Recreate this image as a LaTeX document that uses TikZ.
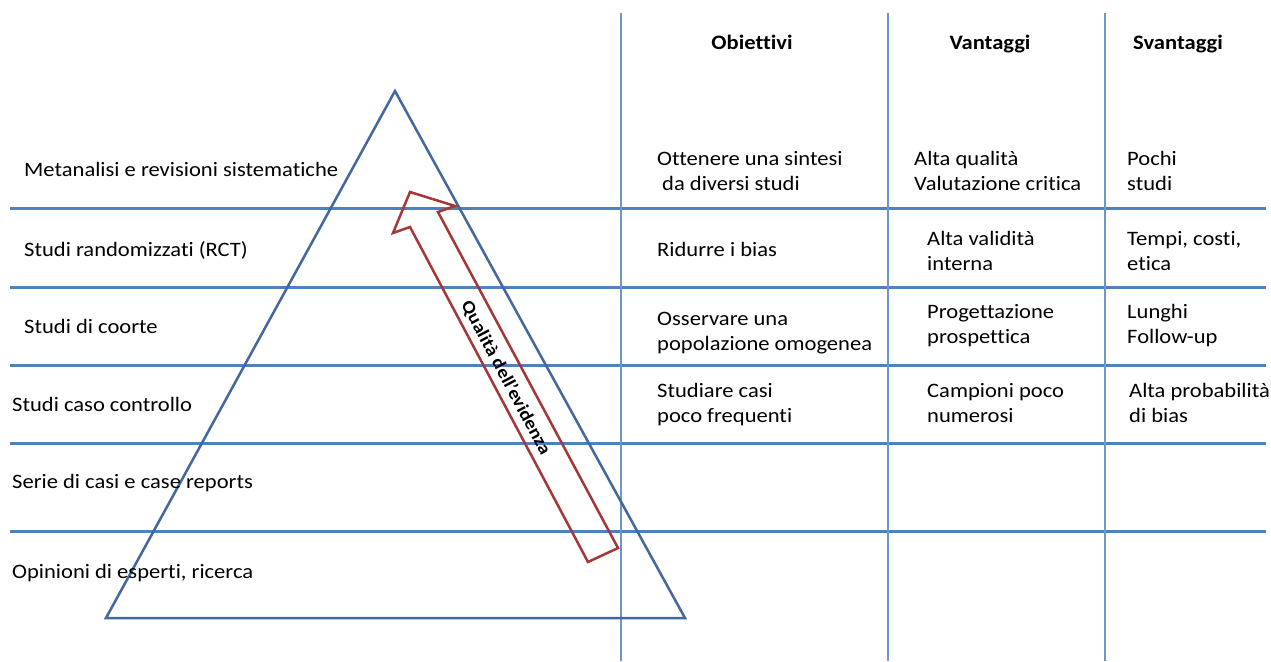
\documentclass[tikz,border=0pt]{standalone}
\usepackage{fontspec}
\setmainfont{Carlito}[FakeStretch=1.1,Ligatures={NoCommon}]
\begin{document}
\begin{tikzpicture}[x=1pt,y=-1pt,
  hline/.style={draw=hblue,line width=3pt},
  vline/.style={draw=vblue,line width=1.5pt},
  tri/.style={draw=tblue,line width=2.5pt,line join=miter},
  qarrow/.style={draw=ared,line width=2.5pt,line join=miter},
  lbl/.style={anchor=base west,inner sep=0pt,font=\fontsize{20.5}{24}\selectfont,text=black},
  hdr/.style={anchor=base,inner sep=0pt,font=\fontsize{20.5}{24}\selectfont\bfseries,text=black},
  qtxt/.style={inner sep=0pt,font=\fontsize{18}{22}\selectfont\bfseries,text=black,rotate=-62}]
\definecolor{hblue}{RGB}{79,129,189}
\definecolor{vblue}{RGB}{110,150,200}
\definecolor{tblue}{RGB}{66,104,158}
\definecolor{ared}{RGB}{165,55,55}
\useasboundingbox[fill=white] (0,0) rectangle (1271,661);
% horizontal lines
\foreach \y/\n in {208/h1,287/h2,365/h3,443/h4,531/h5}{
  \coordinate (\n a) at (10,\y);
  \coordinate (\n b) at (1266,\y);
  \draw[hline] (\n a) -- (\n b);
}
% vertical lines
\foreach \x/\n in {621/v1,888/v2,1105/v3}{
  \coordinate (\n a) at (\x,13);
  \coordinate (\n b) at (\x,661);
  \draw[vline] (\n a) -- (\n b);
}
% triangle
\coordinate (apex) at (395,91);
\coordinate (bl) at (106,618);
\coordinate (br) at (685,618);
\draw[tri] (apex) -- (bl) -- (br) -- cycle;
% arrow
\coordinate (tip) at (410,192);
\coordinate (rb) at (455,206);
\coordinate (rt) at (438,212);
\coordinate (rbot) at (618,548);
\coordinate (lbot) at (588,562);
\coordinate (lt) at (410,227);
\coordinate (lb) at (393,233);
\draw[qarrow] (tip) -- (rb) -- (rt) -- (rbot) -- (lbot) -- (lt) -- (lb) -- cycle;
\node[qtxt] (q) at (506,378) {Qualità dell'evidenza};
% left labels
\node[lbl] (l1) at (24,176) {Metanalisi e revisioni sistematiche};
\node[lbl] (l2) at (24,256) {Studi randomizzati (RCT)};
\node[lbl] (l3) at (24,333) {Studi di coorte};
\node[lbl] (l4) at (12,411) {Studi caso controllo};
\node[lbl] (l5) at (12,488) {Serie di casi e case reports};
\node[lbl] (l6) at (12,578) {Opinioni di esperti, ricerca};
% headers
\node[hdr] (hO) at (752,49) {Obiettivi};
\node[hdr] (hV) at (990,49) {Vantaggi};
\node[hdr] (hS) at (1178,49) {Svantaggi};
% row 1
\node[lbl] (o1a) at (657,165) {Ottenere una sintesi};
\node[lbl] (o1b) at (662,190) {da diversi studi};
\node[lbl] (v1a) at (914,165) {Alta qualità};
\node[lbl] (v1b) at (914,190) {Valutazione critica};
\node[lbl] (s1a) at (1127,165) {Pochi};
\node[lbl] (s1b) at (1127,190) {studi};
% row 2
\node[lbl] (o2) at (657,256) {Ridurre i bias};
\node[lbl] (v2a) at (927,245) {Alta validità};
\node[lbl] (v2b) at (927,270) {interna};
\node[lbl] (s2a) at (1127,245) {Tempi, costi,};
\node[lbl] (s2b) at (1127,270) {etica};
% row 3
\node[lbl] (o3a) at (657,325) {Osservare una};
\node[lbl] (o3b) at (657,350) {popolazione omogenea};
\node[lbl] (v3a) at (927,318) {Progettazione};
\node[lbl] (v3b) at (927,343) {prospettica};
\node[lbl] (s3a) at (1127,318) {Lunghi};
\node[lbl] (s3b) at (1127,343) {Follow-up};
% row 4
\node[lbl] (o4a) at (657,397) {Studiare casi};
\node[lbl] (o4b) at (657,422) {poco frequenti};
\node[lbl] (v4a) at (927,397) {Campioni poco};
\node[lbl] (v4b) at (927,422) {numerosi};
\node[lbl] (s4a) at (1129,397) {Alta probabilità};
\node[lbl] (s4b) at (1129,422) {di bias};
\end{tikzpicture}
\end{document}
